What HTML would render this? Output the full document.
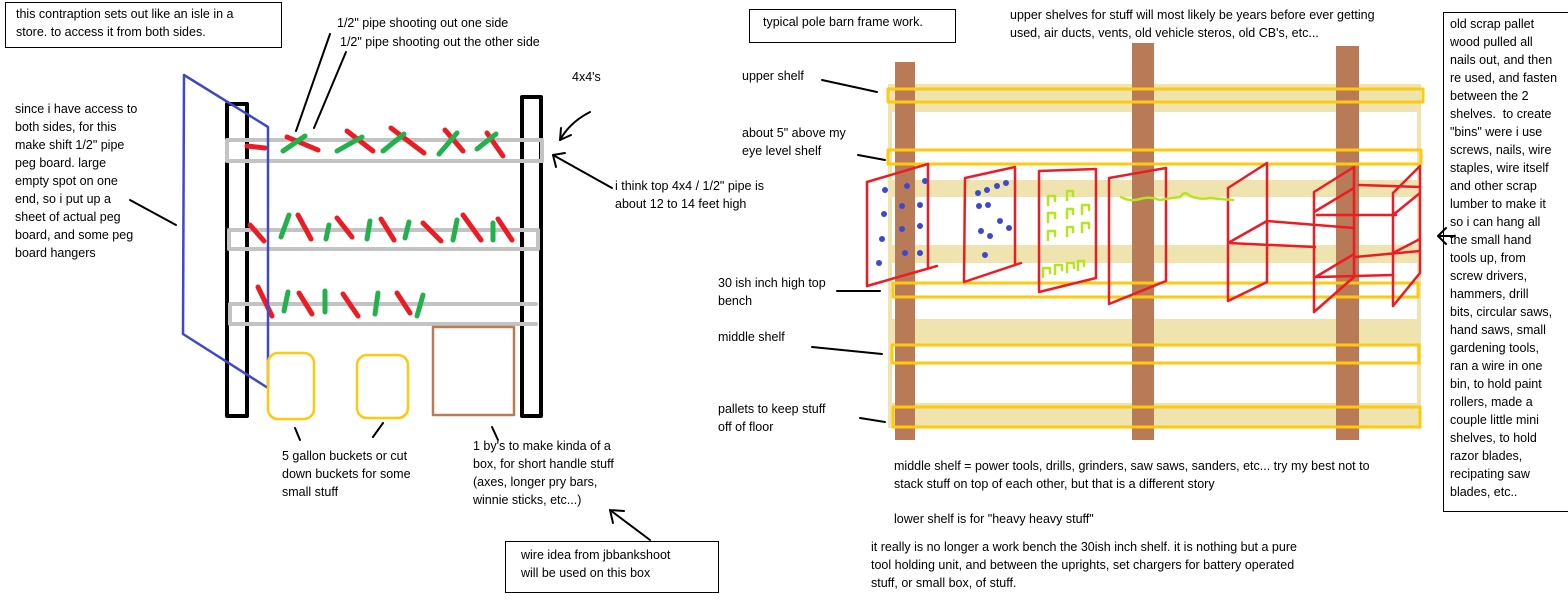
<!DOCTYPE html>
<html><head><meta charset="utf-8"><style>
html,body{margin:0;padding:0;background:#fff;}
body{width:1568px;height:605px;position:relative;overflow:hidden;font-family:"Liberation Sans",sans-serif;font-size:12.5px;color:#000;}
.t{position:absolute;white-space:pre;line-height:18px;}
.box{position:absolute;border:1.5px solid #000;box-sizing:border-box;}
svg{position:absolute;left:0;top:0;}
</style></head><body>
<svg width="1568" height="605" viewBox="0 0 1568 605">
<g fill="none" stroke-linecap="round" stroke-linejoin="round">
<rect x="227" y="104" width="20" height="312" stroke="#000" stroke-width="4"/>
<rect x="522" y="97" width="19" height="319" stroke="#000" stroke-width="4"/>
<rect x="227" y="140" width="315" height="21" stroke="#c3c3c3" stroke-width="4"/>
<rect x="229" y="230" width="309" height="19" stroke="#c3c3c3" stroke-width="4"/>
<path d="M536 304 H230 V324 H536" stroke="#c3c3c3" stroke-width="4"/>
<g stroke-width="5">
<path d="M247 146 L265 148" stroke="#ed1c24"/>
<path d="M287 137 L318 150" stroke="#ed1c24"/><path d="M283 151 L305 136" stroke="#22b14c"/>
<path d="M347 131 L373 151" stroke="#ed1c24"/><path d="M337 151 L362 137" stroke="#22b14c"/>
<path d="M391 128 L424 153" stroke="#ed1c24"/><path d="M383 151 L404 134" stroke="#22b14c"/>
<path d="M445 130 L463 151" stroke="#ed1c24"/><path d="M439 154 L457 133" stroke="#22b14c"/>
<path d="M487 133 L503 156" stroke="#ed1c24"/><path d="M477 149 L496 134" stroke="#22b14c"/>
<path d="M250 225 L264 241" stroke="#ed1c24"/><path d="M281 237 L289 215" stroke="#22b14c"/>
<path d="M298 215 L311 239" stroke="#ed1c24"/><path d="M326 239 L329 225" stroke="#22b14c"/>
<path d="M337 218 L352 237" stroke="#ed1c24"/><path d="M367 239 L370 221" stroke="#22b14c"/>
<path d="M381 219 L394 240" stroke="#ed1c24"/><path d="M405 238 L409 222" stroke="#22b14c"/>
<path d="M423 223 L441 241" stroke="#ed1c24"/><path d="M453 240 L457 220" stroke="#22b14c"/>
<path d="M463 215 L481 240" stroke="#ed1c24"/><path d="M493 240 L493 223" stroke="#22b14c"/>
<path d="M498 219 L512 240" stroke="#ed1c24"/>
<path d="M258 287 L272 316" stroke="#ed1c24"/><path d="M284 311 L288 292" stroke="#22b14c"/>
<path d="M299 293 L312 314" stroke="#ed1c24"/><path d="M325 312 L325 291" stroke="#22b14c"/>
<path d="M343 294 L358 316" stroke="#ed1c24"/><path d="M375 314 L378 293" stroke="#22b14c"/>
<path d="M397 293 L410 313" stroke="#ed1c24"/><path d="M417 316 L423 295" stroke="#22b14c"/>
</g>
<path d="M184 75 L268 127 L268 388 L183 334 Z" stroke="#3f48cc" stroke-width="2.5"/>
<rect x="268" y="353" width="46" height="66" rx="10" stroke="#ffc90e" stroke-width="2.5"/>
<rect x="357" y="355" width="51" height="63" rx="10" stroke="#ffc90e" stroke-width="2.5"/>
<rect x="433" y="327" width="81" height="88" stroke="#b97a57" stroke-width="2.5"/>
<g stroke="#000" stroke-width="2">
<path d="M296 131 L330 34"/><path d="M314 128 L346 52"/>
<path d="M590 112 Q570 122 560 140"/><path d="M560 140 L561 128 M560 140 L571 135"/>
<path d="M612 188 L553 155"/><path d="M553 155 L556 167 M553 155 L565 153"/>
<path d="M176 225 L130 200"/>
<path d="M295 428 L300 440"/><path d="M383 423 L373 437"/><path d="M492 427 L498 440"/>
<path d="M650 540 L610 510"/><path d="M610 510 L613 523 M610 510 L624 511"/>
</g>
<g stroke="none" fill="#efe4b0">
<rect x="888" y="84" width="533" height="28"/>
<rect x="888" y="180" width="533" height="17"/>
<rect x="888" y="245" width="533" height="18"/>
<rect x="888" y="319" width="533" height="26"/>
<rect x="888" y="403" width="533" height="25"/>
<rect x="888" y="84" width="4" height="344"/>
<rect x="1417" y="84" width="4" height="344"/>
<rect x="895" y="62" width="20" height="378" fill="#b97a57"/>
<rect x="1132" y="43" width="22" height="397" fill="#b97a57"/>
<rect x="1336" y="46" width="23" height="394" fill="#b97a57"/>
</g>
<g stroke="#ffc90e" stroke-width="3">
<rect x="888" y="89" width="535" height="13"/>
<rect x="888" y="150" width="533" height="14"/>
<rect x="893" y="283" width="525" height="14"/>
<rect x="892" y="345" width="527" height="18"/>
<rect x="893" y="407" width="527" height="20"/>
</g>
<g stroke="#ed1c24" stroke-width="2.5">
<path d="M867 182 L928 164 L928 268 M937 266 L867 286 Z"/>
<path d="M867 182 L867 286"/>
<path d="M965 178 L1015 167 L1015 264 M1021 263 L964 282 L965 178"/>
<path d="M1039 171 L1096 169 L1096 278 L1039 292 Z"/>
<path d="M1109 178 L1166 168 L1166 281 L1109 304 Z"/>
<path d="M1228 188 L1228 301 M1267 163 L1267 282 M1228 188 L1267 163 M1228 301 L1267 282 M1228 243 L1267 221 M1228 243 L1315 247 M1267 221 L1354 228"/>
<path d="M1314 192 L1314 312 M1354 167 L1354 277 M1314 192 L1354 167 M1314 312 L1354 277 M1314 212 L1354 188 M1314 278 L1354 254"/>
<path d="M1393 193 L1393 306 M1420 166 L1420 273 M1393 193 L1420 166 M1393 306 L1420 273 M1393 215 L1420 193 M1393 253 L1420 239"/>
<path d="M1317 215 L1396 215 M1359 185 L1420 187 M1317 277 L1393 275 M1355 257 L1420 251"/>
</g>
<g fill="#3f48cc" stroke="none">
<circle cx="885" cy="190" r="3"/><circle cx="907" cy="186" r="3"/><circle cx="925" cy="181" r="3"/>
<circle cx="884" cy="214" r="3"/><circle cx="902" cy="206" r="3"/><circle cx="920" cy="205" r="3"/>
<circle cx="902" cy="229" r="3"/><circle cx="920" cy="226" r="3"/><circle cx="882" cy="239" r="3"/>
<circle cx="905" cy="253" r="3"/><circle cx="920" cy="253" r="3"/><circle cx="879" cy="263" r="3"/>
<circle cx="978" cy="193" r="3"/><circle cx="987" cy="190" r="3"/><circle cx="997" cy="186" r="3"/><circle cx="1006" cy="183" r="3"/>
<circle cx="979" cy="206" r="3"/><circle cx="988" cy="205" r="3"/><circle cx="1000" cy="221" r="3"/><circle cx="1009" cy="228" r="3"/>
<circle cx="981" cy="231" r="3"/><circle cx="990" cy="236" r="3"/><circle cx="985" cy="255" r="3"/>
</g>
<g stroke="#b5e61d" stroke-width="2.5">
<path d="M1048 205 V196 H1055 V201 M1067 200 V191 H1073 V196"/>
<path d="M1048 222 V213 H1055 V218 M1067 218 V209 H1073 V214 M1082 214 V205 H1089 V210"/>
<path d="M1048 240 V231 H1055 V236 M1067 236 V227 H1073 V232 M1082 232 V223 H1089 V228"/>
<path d="M1043 277 V268 H1050 V273 M1055 274 V265 H1062 V270 M1067 272 V263 H1074 V268 M1078 270 V261 H1084 V266"/>
<path d="M1121 197 Q1130 202 1140 199 Q1150 196 1160 200 Q1170 198 1180 197 Q1185 190 1190 196 Q1200 200 1210 198 L1233 200"/>
</g>
<g stroke="#000" stroke-width="2">
<path d="M822 80 L877 92"/><path d="M858 155 L885 160"/><path d="M837 291 L880 291"/>
<path d="M812 347 L882 354"/><path d="M860 418 L885 422"/>
<path d="M1438 236 L1455 236 M1438 236 L1446 228 M1438 236 L1446 244"/>
</g>
</g>
</svg>

<div class="box" style="left:5px;top:2px;width:277px;height:46px;"></div>
<div class="t" style="left:16px;top:5px;">this contraption sets out like an isle in a
store. to access it from both sides.</div>
<div class="t" style="left:337px;top:14px;">1/2" pipe shooting out one side</div>
<div class="t" style="left:340px;top:33px;">1/2" pipe shooting out the other side</div>
<div class="t" style="left:572px;top:68px;">4x4's</div>
<div class="t" style="left:615px;top:177px;">i think top 4x4 / 1/2" pipe is
about 12 to 14 feet high</div>
<div class="t" style="left:15px;top:100px;">since i have access to
both sides, for this
make shift 1/2" pipe
peg board. large
empty spot on one
end, so i put up a
sheet of actual peg
board, and some peg
board hangers</div>
<div class="t" style="left:282px;top:447px;">5 gallon buckets or cut
down buckets for some
small stuff</div>
<div class="t" style="left:473px;top:437px;">1 by's to make kinda of a
box, for short handle stuff
(axes, longer pry bars,
winnie sticks, etc...)</div>
<div class="box" style="left:505px;top:541px;width:214px;height:52px;"></div>
<div class="t" style="left:521px;top:546px;">wire idea from jbbankshoot
will be used on this box</div>

<div class="box" style="left:749px;top:9px;width:207px;height:34px;"></div>
<div class="t" style="left:763px;top:13px;">typical pole barn frame work.</div>
<div class="t" style="left:1010px;top:6px;">upper shelves for stuff will most likely be years before ever getting
used, air ducts, vents, old vehicle steros, old CB's, etc...</div>
<div class="t" style="left:742px;top:67px;">upper shelf</div>
<div class="t" style="left:742px;top:124px;">about 5" above my
eye level shelf</div>
<div class="t" style="left:718px;top:274px;">30 ish inch high top
bench</div>
<div class="t" style="left:718px;top:328px;">middle shelf</div>
<div class="t" style="left:718px;top:400px;">pallets to keep stuff
off of floor</div>
<div class="t" style="left:894px;top:457px;">middle shelf = power tools, drills, grinders, saw saws, sanders, etc... try my best not to
stack stuff on top of each other, but that is a different story</div>
<div class="t" style="left:894px;top:510px;">lower shelf is for "heavy heavy stuff"</div>
<div class="t" style="left:871px;top:538px;">it really is no longer a work bench the 30ish inch shelf. it is nothing but a pure
tool holding unit, and between the uprights, set chargers for battery operated
stuff, or small box, of stuff.</div>

<div class="box" style="left:1443px;top:12px;width:130px;height:500px;"></div>
<div class="t" style="left:1450px;top:15px;line-height:18px;">old scrap pallet
wood pulled all
nails out, and then
re used, and fasten
between the 2
shelves.  to create
"bins" were i use
screws, nails, wire
staples, wire itself
and other scrap
lumber to make it
so i can hang all
the small hand
tools up, from
screw drivers,
hammers, drill
bits, circular saws,
hand saws, small
gardening tools,
ran a wire in one
bin, to hold paint
rollers, made a
couple little mini
shelves, to hold
razor blades,
recipating saw
blades, etc..</div>
</body></html>
